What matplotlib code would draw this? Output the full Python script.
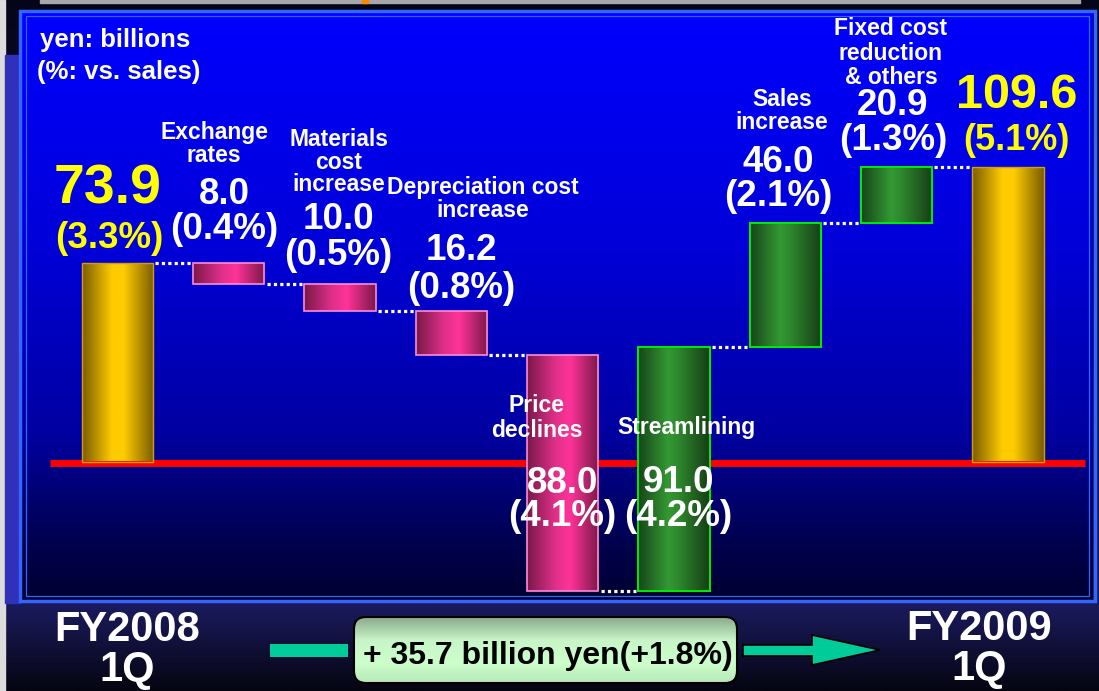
import matplotlib
matplotlib.use("Agg")
import matplotlib.pyplot as plt
import numpy as np
from matplotlib.patches import Rectangle, FancyBboxPatch, Polygon
from matplotlib.colors import LinearSegmentedColormap

plt.rcParams['font.family'] = ['Liberation Sans', 'DejaVu Sans']
plt.rcParams['font.weight'] = 'bold'

# data (yen billions)
start_val = 73.9
end_val = 109.6
categories = ["Exchange\nrates", "Materials\ncost\nincrease", "Depreciation cost\nincrease",
              "Price\ndeclines", "Streamlining", "Sales\nincrease", "Fixed cost\nreduction\n& others"]
deltas = [-8.0, -10.0, -16.2, -88.0, 91.0, 46.0, 20.9]
start_pct = "3.3%"
end_pct = "5.1%"
pcts = ["0.4%", "0.5%", "0.8%", "4.1%", "4.2%", "2.1%", "1.3%"]
periods = ["FY2008\n1Q", "FY2009\n1Q"]
summary = "+ 35.7 billion yen(+1.8%)"

W, H = 1099, 691
fig = plt.figure(figsize=(W / 100, H / 100), dpi=100)

# background axes in pixel coordinates
bg = fig.add_axes([0, 0, 1, 1])
bg.set_xlim(0, W)
bg.set_ylim(H, 0)
bg.axis('off')

def vgrad(axis, extent, colors, stops=None, zorder=0, clip=None):
    if stops is None:
        stops = np.linspace(0, 1, len(colors))
    cmap = LinearSegmentedColormap.from_list('g', list(zip(stops, colors)))
    img = np.linspace(0, 1, 256).reshape(-1, 1)
    im = axis.imshow(img, cmap=cmap, extent=extent, aspect='auto', origin='upper',
                     zorder=zorder, interpolation='bilinear')
    if clip is not None:
        im.set_clip_path(clip)
    return im

def hgrad(axis, extent, colors, stops, zorder=2, clip=None):
    cmap = LinearSegmentedColormap.from_list('h', list(zip(stops, colors)))
    img = np.linspace(0, 1, 256).reshape(1, -1)
    im = axis.imshow(img, cmap=cmap, extent=extent, aspect='auto', origin='upper',
                     zorder=zorder, interpolation='bilinear')
    if clip is not None:
        im.set_clip_path(clip)
    return im

# outer background
vgrad(bg, [0, W, H, 0], ['#05051a', '#141450', '#1a1a5c', '#050512'], [0, 0.6, 0.88, 1.0], zorder=0)
bg.add_patch(Rectangle((0, 0), 5, H, color='#dcdcdc', zorder=1))
bg.add_patch(Rectangle((5, 55), 15, 548, color='#3030b8', zorder=1))
bg.add_patch(Rectangle((40, 0), 1040, 3, color='#a8a8a8', zorder=1))
bg.add_patch(Rectangle((362, 0), 6, 3, color='#ff8800', zorder=1))

# chart panel
vgrad(bg, [22, 1093, 600, 12], ['#0000ff', '#0000d8', '#0000a0', '#000050', '#000030'],
      [0, 0.4, 0.72, 0.9, 1.0], zorder=1)
bg.add_patch(Rectangle((20, 11), 1075, 590, fill=False, ec='#3366ff', lw=2.5, zorder=2))
bg.add_patch(Rectangle((26, 16), 1063, 580, fill=False, ec='#3366ff', lw=0.9, zorder=2))

# data axes aligned with panel: zero at y=461.5 px, 2.69 px per billion, bars 111.3 px apart
s, y0, x0, dx = 2.69, 461.5, 117.5, 111.3
ax = fig.add_axes([22 / W, (H - 600) / H, (1093 - 22) / W, (600 - 12) / H])
ax.set_xlim((22 - x0) / dx, (1093 - x0) / dx)
ax.set_ylim((y0 - 600) / s, (y0 - 12) / s)
ax.set_autoscale_on(False)
ax.axis('off')
ax.patch.set_alpha(0)

# red baseline
ax.plot([(50 - x0) / dx, (1085 - x0) / dx], [-0.4, -0.4], color='#ff0000', lw=5, zorder=1,
        solid_capstyle='butt')

bw = 0.64
yellow = (['#7a5c00', '#ffcc00', '#ffcc00', '#7a5c00'], [0, 0.42, 0.58, 1])
pink = (['#7a1848', '#e0308a', '#ff3399', '#7a1848'], [0, 0.4, 0.6, 1])
green = (['#17451a', '#339933', '#2e8a2e', '#163d16'], [0, 0.42, 0.55, 1])

def bar(i, bottom, top, style, edge, lw):
    rect = Rectangle((i - bw / 2, bottom), bw, top - bottom, fc='none', ec=edge, lw=lw, zorder=3)
    ax.add_patch(rect)
    clip = Rectangle((i - bw / 2, bottom), bw, top - bottom, transform=ax.transData)
    hgrad(ax, [i - bw / 2, i + bw / 2, bottom, top], style[0], style[1], zorder=2, clip=clip)

levels = [start_val]
bar(0, 0, start_val, yellow, '#d4a000', 1.0)
for k, d in enumerate(deltas):
    prev = levels[-1]
    new = prev + d
    if d < 0:
        bar(k + 1, new, prev, pink, '#ff8ad8', 1.2)
    else:
        bar(k + 1, prev, new, green, '#00ee00', 1.4)
    levels.append(new)
n_end = len(deltas) + 1
bar(n_end, 0, end_val, yellow, '#d4a000', 1.0)

# dotted connectors
for i in range(len(levels)):
    ax.plot([i + bw / 2 + 0.02, i + 1 - bw / 2 - 0.02], [levels[i], levels[i]],
            color='white', lw=2.3, linestyle=(0, (1, 1)), zorder=4)

# text in pixel coords over everything
px = bg.transData
def t(x, y, s_, size, color='white', **kw):
    ax.text(x, y, s_, transform=px, fontsize=size, color=color, fontweight='bold',
            ha='center', va='center', zorder=10, clip_on=False, **kw)

ax.text(40, 40, "yen: billions", transform=px, fontsize=18.5, color='white',
        fontweight='bold', ha='left', va='center', zorder=10)
ax.text(37, 72, "(%: vs. sales)", transform=px, fontsize=18.5, color='white',
        fontweight='bold', ha='left', va='center', zorder=10)

t(108, 189, f"{start_val}", 40, '#ffff00')
t(109, 238, f"({start_pct})", 26.5, '#ffff00')
t(1017, 95, f"{end_val}", 35, '#ffff00')
t(1016, 140, f"({end_pct})", 26, '#ffff00')

cat_pos = [(214, 144), (339, 162), (483, 199), (537, 418), (686, 427), (782, 111), (891, 53)]
cat_ls = [0.95, 0.95, 0.95, 1.08, 0.95, 0.95, 1.08]
val_pos = [(224, 194), (338, 219), (461, 250), (563, 483), (678, 482), (778, 162), (893, 105)]
pct_pos = [(224, 229), (338, 255), (461, 288), (562, 517), (678, 517), (778, 196), (893, 140)]
for k in range(len(deltas)):
    t(*cat_pos[k], categories[k], 16.5, linespacing=cat_ls[k])
    t(*val_pos[k], f"{abs(deltas[k]):.1f}", 26.5)
    t(*pct_pos[k], f"({pcts[k]})", 26.5)

# bottom row
t(127, 650, periods[0], 30, linespacing=1.0)
t(979, 649, periods[1], 30, linespacing=1.0)

box = FancyBboxPatch((354, 617), 383, 66, boxstyle='round,pad=0,rounding_size=12',
                     fc='none', ec='black', lw=1.5, zorder=6)
bg.add_patch(box)
clipb = FancyBboxPatch((354, 617), 383, 66, boxstyle='round,pad=0,rounding_size=12',
                       transform=bg.transData)
vgrad(bg, [354, 737, 683, 617], ['#8aa88a', '#c8f5c8', '#ccffcc', '#b8e8b8'],
      [0, 0.35, 0.7, 1.0], zorder=5, clip=clipb)
bg.text(548, 656, summary, fontsize=23, color='black', fontweight='bold',
        ha='center', va='center', zorder=7)

bg.add_patch(Rectangle((270, 644), 78, 13, fc='#00cc99', ec='none', zorder=5))
arrow = Polygon([(743, 645), (812, 645), (812, 635), (880, 650), (812, 665), (812, 656), (743, 656)],
                closed=True, fc='#00cc99', ec='black', lw=1.2, zorder=5)
bg.add_patch(arrow)

fig.savefig('out.png', dpi=100)
